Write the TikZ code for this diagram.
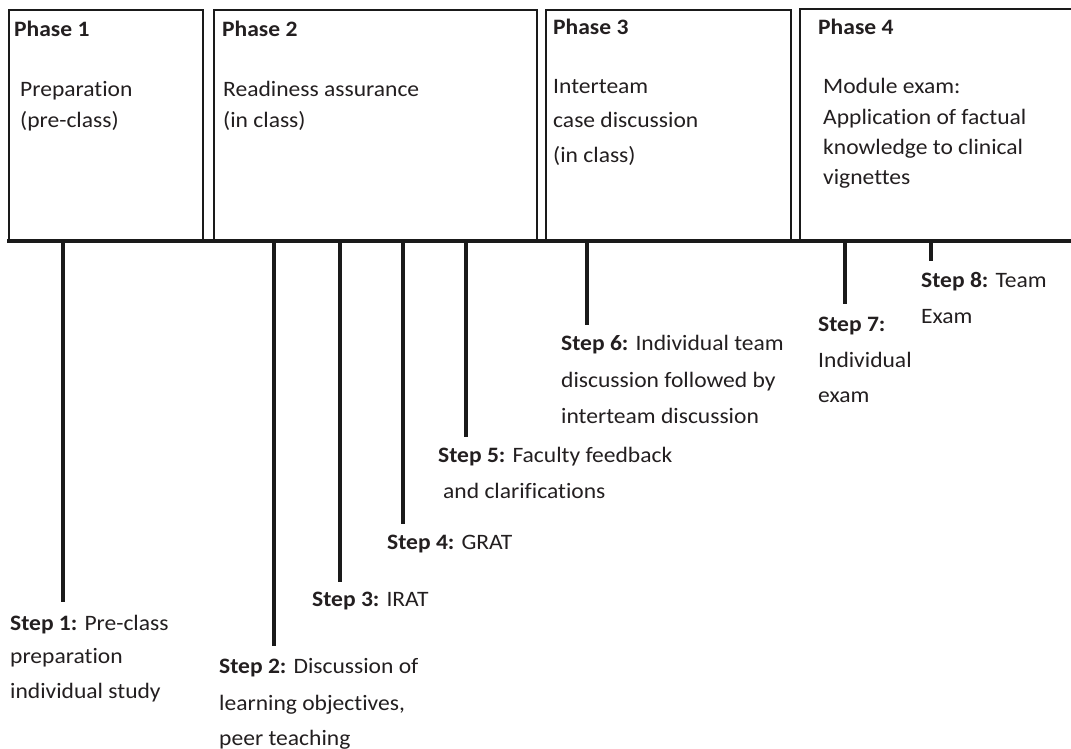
\documentclass[tikz,border=0pt]{standalone}
\usepackage{fontspec}
\setmainfont{Carlito}[FakeStretch=1.07,Ligatures={NoCommon,NoContextual,NoRare},RawFeature={-liga;-clig;-dlig}]
\definecolor{linec}{HTML}{1A1A1A}
\definecolor{txtc}{HTML}{231F20}
\begin{document}
\begin{tikzpicture}[x=1pt,y=-1pt,
  box/.style={draw=linec,line width=2.2pt,inner sep=0pt,anchor=north west},
  tline/.style={draw=linec,line width=4.5pt},
  stepline/.style={draw=linec,line width=4pt},
  txt/.style={anchor=base west,inner sep=0pt,font=\fontsize{22}{26}\selectfont,text=txtc}]
\useasboundingbox (0,0) rectangle (1071,749);
\fill[white] (0,0) rectangle (1071,749);
% phase boxes
\node[box,minimum width=194pt,minimum height=231pt] (p1) at (8,9) {};
\node[box,minimum width=323pt,minimum height=231pt] (p2) at (213,9) {};
\node[box,minimum width=245pt,minimum height=231pt] (p3) at (545,9) {};
\coordinate (p4a) at (1071,9);
\coordinate (p4b) at (800,9);
\coordinate (p4c) at (800,240);
\draw[linec,line width=2.2pt] (p4a) -- (p4b) -- (p4c);
% timeline
\coordinate (tlL) at (7,241);
\coordinate (tlR) at (1071,241);
\draw[tline] (tlL) -- (tlR);
% box texts
\node[txt] (h1) at (14,37) {\textbf{Phase 1}};
\node[txt] (h1a) at (20,97) {Preparation};
\node[txt] (h1b) at (20,128) {(pre-class)};
\node[txt] (h2) at (222,37) {\textbf{Phase 2}};
\node[txt] (h2a) at (223,97) {Readiness assurance};
\node[txt] (h2b) at (223,128) {(in class)};
\node[txt] (h3) at (553,35) {\textbf{Phase 3}};
\node[txt] (h3a) at (553,94) {Interteam};
\node[txt] (h3b) at (553,128) {case discussion};
\node[txt] (h3c) at (553,162) {(in class)};
\node[txt] (h4) at (818,35) {\textbf{Phase 4}};
\node[txt] (h4a) at (823,94) {Module exam:};
\node[txt] (h4b) at (823,125) {Application of factual};
\node[txt] (h4c) at (823,155) {knowledge to clinical};
\node[txt] (h4d) at (823,185) {vignettes};
% step lines
\foreach \n/\x/\y in {1/63/602,2/274/646,3/340/582,4/403/524,5/466/437,6/587/325,7/845/304,8/931/261}{
  \coordinate (t\n) at (\x,241);
  \coordinate (e\n) at (\x,\y);
  \draw[stepline] (t\n) -- (e\n);
}
% step texts
\node[txt] (s1a) at (10,630) {\textbf{Step 1:} Pre-class};
\node[txt] (s1b) at (10,663) {preparation};
\node[txt] (s1c) at (10,698) {individual study};
\node[txt] (s2a) at (219,673) {\textbf{Step 2:} Discussion of};
\node[txt] (s2b) at (219,710) {learning objectives,};
\node[txt] (s2c) at (219,745) {peer teaching};
\node[txt] (s3a) at (312,606) {\textbf{Step 3:} IRAT};
\node[txt] (s4a) at (387,549) {\textbf{Step 4:} GRAT};
\node[txt] (s5a) at (438,462) {\textbf{Step 5:} Faculty feedback};
\node[txt] (s5b) at (443,498) {and clarifications};
\node[txt] (s6a) at (561,350) {\textbf{Step 6:} Individual team};
\node[txt] (s6b) at (561,387) {discussion followed by};
\node[txt] (s6c) at (561,423) {interteam discussion};
\node[txt] (s7a) at (818,331) {\textbf{Step 7:}};
\node[txt] (s7b) at (818,367) {Individual};
\node[txt] (s7c) at (818,402) {exam};
\node[txt] (s8a) at (921,287) {\textbf{Step 8:} Team};
\node[txt] (s8b) at (921,323) {Exam};
\end{tikzpicture}
\end{document}
